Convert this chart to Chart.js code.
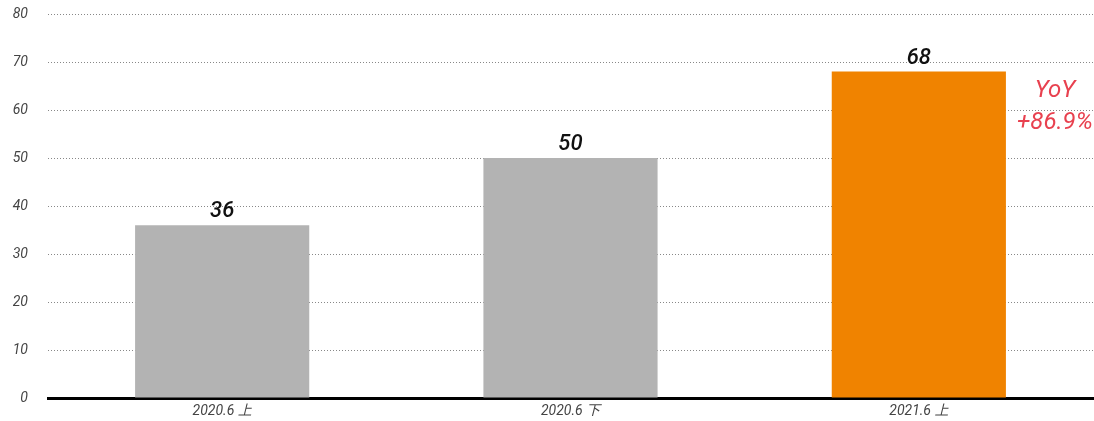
<!DOCTYPE html>
<html>
<head>
<meta charset="utf-8">
<script src="https://cdn.jsdelivr.net/npm/chart.js@4"></script>
<style>
  html, body { margin: 0; padding: 0; background: #fff; }
  #wrap { width: 1094px; height: 421px; }
</style>
</head>
<body>
<div id="wrap"><canvas id="chart" width="1094" height="421"></canvas></div>
<script>
// データ
const categories = ["2020.6 上", "2020.6 下", "2021.6 上"];
const values = [36, 50, 68];
const barColors = ["#b3b3b3", "#b3b3b3", "#f08300"];
const yoyLines = ["YoY", "+86.9%"];
const yMax = 80;
const yStep = 10;

const FONT = "Roboto, 'Noto Sans CJK SC', sans-serif";

// 棒の上の数値とYoY
const labelPlugin = {
  id: "labels",
  afterDatasetsDraw(chart) {
    const ctx = chart.ctx;
    const meta = chart.getDatasetMeta(0);
    ctx.save();
    ctx.font = "italic 500 22px " + FONT;
    ctx.fillStyle = "#111";
    ctx.textAlign = "center";
    ctx.textBaseline = "alphabetic";
    meta.data.forEach((bar, i) => {
      ctx.fillText(String(values[i]), bar.x, bar.y - 8);
    });
    // YoY
    const last = meta.data[meta.data.length - 1];
    const x = last.x + last.width / 2 + 49;
    const y = chart.scales.y.getPixelForValue(values[values.length - 1]);
    ctx.font = "italic 24px " + FONT;
    ctx.fillStyle = "#e8414f";
    ctx.fillText(yoyLines[0], x, y + 25);
    ctx.fillText(yoyLines[1], x, y + 57);
    ctx.restore();
  }
};

new Chart(document.getElementById("chart").getContext("2d"), {
  type: "bar",
  data: {
    labels: categories,
    datasets: [{
      data: values,
      backgroundColor: barColors,
      barPercentage: 0.5,
      categoryPercentage: 1.0
    }]
  },
  options: {
    responsive: false,
    animation: false,
    layout: { padding: { top: 0, right: 1, left: 0, bottom: 0 } },
    plugins: {
      legend: { display: false },
      tooltip: { enabled: false }
    },
    scales: {
      x: {
        grid: { display: false, drawTicks: false },
        border: { color: "#000", width: 3 },
        ticks: {
          color: "#444",
          padding: 5,
          font: { family: FONT, size: 14, style: "italic" }
        },
        afterFit(scale) { scale.height = 23; }
      },
      y: {
        min: 0,
        max: yMax,
        ticks: {
          stepSize: yStep,
          color: "#444",
          padding: 20,
          font: { family: FONT, size: 14, style: "italic" }
        },
        grid: {
          color: "#888",
          drawTicks: false
        },
        border: { display: false, dash: [1, 2] },
        afterFit(scale) {
          scale.width = 48;
          scale.paddingTop = 14;
          scale.paddingBottom = 0;
        }
      }
    }
  },
  plugins: [labelPlugin]
});
</script>
</body>
</html>
